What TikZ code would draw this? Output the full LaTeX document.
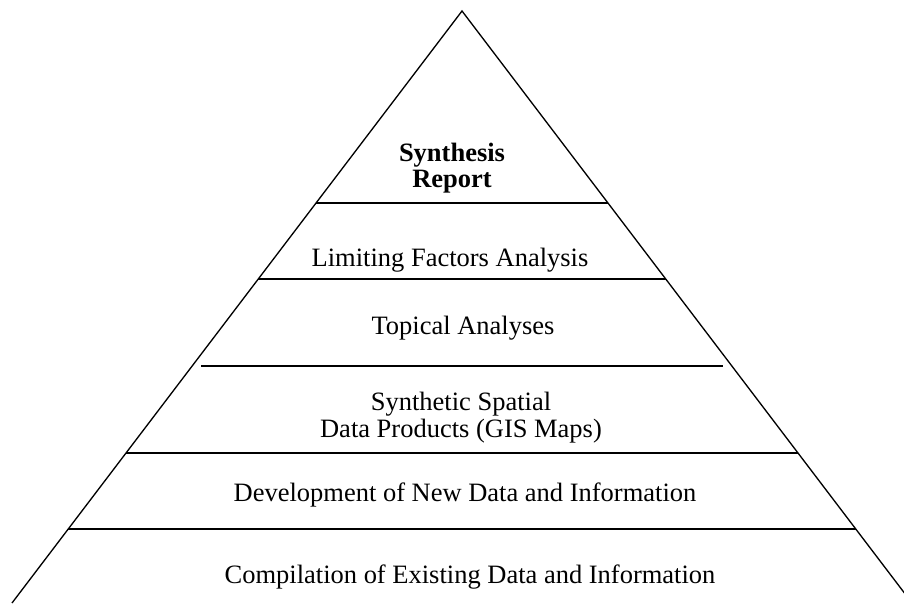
\documentclass[tikz,border=0pt]{standalone}
\usepackage{fontspec}
\setmainfont{Liberation Serif}
\usepackage{tikz}
\usetikzlibrary{calc, positioning}
\tikzset{
x=0.453pt, y=-0.453pt, % one unit is one pixel of the layout
side/.style={line width=0.6pt, black}, % the two sides of the pyramid
divider/.style={line width=0.9pt, black}, % lines between the levels
level/.style={anchor=base, inner sep=0pt, align=center, font=\fontsize{12}{12.2}\selectfont}, % text of a level
}

\begin{document}
\begin{tikzpicture}
        \clip (0,0) rectangle (904,605);
        \coordinate (apex) at (462,11);
        \coordinate (baseL) at (12,603);
        \coordinate (baseR) at (912,603);

        \draw[side] (baseL) -- (apex) -- (baseR);

        \draw[divider] ($(apex)!0.3243!(baseL)$) -- ($(apex)!0.3243!(baseR)$);
        \draw[divider] ($(apex)!0.4535!(baseL)$) -- ($(apex)!0.4535!(baseR)$);
        \draw[divider, shorten <=4.1pt, shorten >=4.1pt] ($(apex)!0.5997!(baseL)$) -- ($(apex)!0.5997!(baseR)$);
        \draw[divider] ($(apex)!0.7466!(baseL)$) -- ($(apex)!0.7466!(baseR)$);
        \draw[divider] ($(apex)!0.875!(baseL)$) -- ($(apex)!0.875!(baseR)$);

        % the base anchor of a two-line node is the baseline of its last line
        \node[level, font=\fontsize{12}{12.2}\selectfont\bfseries] (report) at (452,188) {Synthesis\\Report};
        \node[level] (limiting) at (450,267) {Limiting Factors Analysis};
        \node[level] (topical) at (463,334) {Topical Analyses};
        \node[level] (spatial) at (461,437) {Synthetic Spatial\\Data Products (GIS Maps)};
        \node[level] (newdata) at (465,501) {Development of New Data and Information};
        \node[level] (existing) at (470,583) {Compilation of Existing Data and Information};
      \end{tikzpicture}
\end{document}
